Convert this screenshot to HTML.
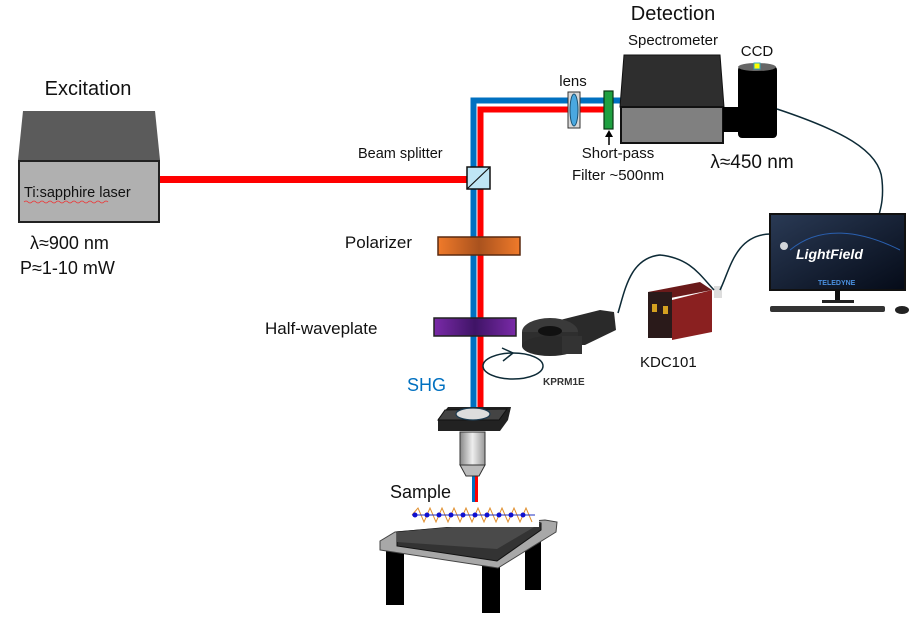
<!DOCTYPE html>
<html><head><meta charset="utf-8"><style>
html,body{margin:0;padding:0;background:#fff}
svg{display:block}
text{font-family:"Liberation Sans",sans-serif;fill:#111}
</style></head><body>
<svg width="921" height="618" viewBox="0 0 921 618">
<defs>
<linearGradient id="org" x1="0" x2="1"><stop offset="0" stop-color="#f07a2a"/><stop offset=".5" stop-color="#a9521e"/><stop offset="1" stop-color="#f07a2a"/></linearGradient>
<linearGradient id="pur" x1="0" x2="1"><stop offset="0" stop-color="#7a2aa8"/><stop offset=".5" stop-color="#3f1466"/><stop offset="1" stop-color="#7a2aa8"/></linearGradient>
<linearGradient id="barrel" x1="0" x2="1"><stop offset="0" stop-color="#888"/><stop offset=".5" stop-color="#eee"/><stop offset="1" stop-color="#999"/></linearGradient>
<linearGradient id="scr" x1="0" x2="1" y1="0" y2="1"><stop offset="0" stop-color="#2a3a55"/><stop offset="1" stop-color="#050b18"/></linearGradient>
</defs>

<text x="88" y="95" font-size="20" text-anchor="middle">Excitation</text>
<g>
<polygon points="23,111 155,111 160,160 18,160" fill="#5b5b5b"/>
<rect x="19" y="161" width="140" height="61" fill="#b0b0b0" stroke="#222" stroke-width="2"/>
<text x="24" y="197" font-size="14.5">Ti:sapphire laser</text>
<path d="M24,202 q2,-2 4,0 t4,0 t4,0 t4,0 t4,0 t4,0 t4,0 t4,0 t4,0 t4,0 t4,0 t4,0 t4,0 t4,0 t4,0 t4,0 t4,0 t4,0 t4,0 t4,0 t4,0" stroke="#e33" fill="none" stroke-width="0.8"/>
</g>
<text x="30" y="249" font-size="18">λ≈900 nm</text>
<text x="20" y="274" font-size="18">P≈1-10 mW</text>

<g>
<rect x="160" y="176" width="308" height="7" fill="#ff0000"/>
<path d="M473.5,430 V100.5 H622" stroke="#0070c0" stroke-width="6" fill="none"/>
<path d="M480.5,430 V109.5 H606" stroke="#ff0000" stroke-width="6" fill="none"/>
<rect x="472" y="470" width="3" height="32" fill="#0070c0"/>
<rect x="475" y="470" width="3" height="32" fill="#ff0000"/>
</g>
<g>
<rect x="467" y="167" width="23" height="22" fill="#bfe6f5" stroke="#111" stroke-width="1.5"/>
<line x1="467" y1="189" x2="490" y2="167" stroke="#111" stroke-width="1.2"/>
</g>
<text x="358" y="158" font-size="14.5">Beam splitter</text>

<rect x="438" y="237" width="82" height="18" fill="url(#org)" stroke="#5a2a10" stroke-width="1.5"/>
<text x="412" y="248" font-size="17" text-anchor="end">Polarizer</text>
<rect x="434" y="318" width="82" height="18" fill="url(#pur)" stroke="#222" stroke-width="1.5"/>
<text x="265" y="334" font-size="17">Half-waveplate</text>
<text x="407" y="391" font-size="18" style="fill:#0070c0">SHG</text>

<g fill="none" stroke="#0d2a36" stroke-width="1.5">
<ellipse cx="513" cy="366" rx="30" ry="13"/>
<path d="M502,348 L513,353 L503,361"/>
</g>
<text x="543" y="385" font-size="10" font-weight="bold" style="fill:#333">KPRM1E</text>

<g>
<polygon points="560,320 600,310 614,312 616,330 585,345 565,345" fill="#2a2a2a"/>
<ellipse cx="550" cy="332" rx="28" ry="14" fill="#3a3a3a"/>
<rect x="522" y="332" width="56" height="14" fill="#2e2e2e"/>
<ellipse cx="550" cy="346" rx="28" ry="10" fill="#2a2a2a"/>
<ellipse cx="550" cy="331" rx="12" ry="5" fill="#111"/>
<rect x="562" y="336" width="20" height="18" fill="#333"/>
</g>
<g>
<polygon points="648,292 700,282 712,290 660,300" fill="#6a1a1a"/>
<rect x="648" y="292" width="24" height="46" fill="#2a1a1a"/>
<polygon points="672,300 712,290 712,332 672,340" fill="#8a2020"/>
<rect x="652" y="304" width="5" height="8" fill="#d4a020"/>
<rect x="663" y="306" width="5" height="8" fill="#d4a020"/>
<rect x="714" y="286" width="8" height="12" fill="#ddd"/>
</g>
<text x="640" y="367" font-size="15">KDC101</text>

<g fill="none" stroke="#0d2a36" stroke-width="1.5">
<path d="M618,313 C625,290 630,258 660,255 C690,258 700,275 714,290"/>
<path d="M720,290 C730,270 735,235 770,234"/>
<path d="M777,109 C840,130 880,150 882,180 C884,200 880,210 879,215"/>
</g>

<text x="673" y="20" font-size="20" text-anchor="middle">Detection</text>
<text x="673" y="45" font-size="15" text-anchor="middle">Spectrometer</text>
<text x="757" y="56" font-size="15" text-anchor="middle">CCD</text>
<text x="573" y="86" font-size="15" text-anchor="middle">lens</text>
<g>
<rect x="568" y="92" width="12" height="36" fill="#d8d8d8" stroke="#333"/>
<ellipse cx="574" cy="110" rx="4" ry="16" fill="#4aa8e0" stroke="#1a5070"/>
</g>
<rect x="604" y="91" width="9" height="38" fill="#1fa040" stroke="#0a3a15" stroke-width="1.2"/>
<g>
<line x1="609" y1="145" x2="609" y2="136" stroke="#000" stroke-width="1.5"/>
<polygon points="605,137 613,137 609,130" fill="#000"/>
</g>
<text x="618" y="158" font-size="15" text-anchor="middle">Short-pass</text>
<text x="618" y="180" font-size="15" text-anchor="middle">Filter ~500nm</text>
<g>
<polygon points="624,55 720,55 724,107 620,107" fill="#2e2e2e" stroke="#111"/>
<rect x="621" y="107" width="102" height="36" fill="#808080" stroke="#111" stroke-width="2"/>
</g>
<g>
<rect x="723" y="107" width="16" height="25" fill="#000"/>
<rect x="738" y="66" width="39" height="72" rx="4" fill="#000"/>
<ellipse cx="757" cy="67" rx="19" ry="4" fill="#666"/>
<rect x="754" y="63" width="6" height="6" fill="#ff0" stroke="#3ab"/>
</g>
<text x="752" y="168" font-size="19" text-anchor="middle">λ≈450 nm</text>

<g>
<rect x="770" y="214" width="135" height="76" fill="url(#scr)" stroke="#111" stroke-width="2"/>
<path d="M790,250 C820,225 860,230 900,250" stroke="#2a60b0" fill="none" stroke-width="1"/>
<circle cx="784" cy="246" r="4" fill="#fff" opacity=".8"/>
<text x="796" y="259" font-size="14" font-weight="bold" font-style="italic" style="fill:#fff">LightField</text>
<text x="818" y="285" font-size="7" font-weight="bold" style="fill:#4a90e0">TELEDYNE</text>
<rect x="835" y="291" width="5" height="10" fill="#111"/>
<rect x="822" y="300" width="32" height="3" fill="#222"/>
<rect x="770" y="306" width="115" height="6" rx="2" fill="#333"/>
<ellipse cx="902" cy="310" rx="7" ry="4" fill="#222"/>
</g>

<g>
<polygon points="438,419 448,407 511,407 508,420 500,431 438,431" fill="#222"/>
<polygon points="445,410 507,409 499,420 438,420" fill="#444" stroke="#111"/>
<ellipse cx="473" cy="414" rx="17" ry="6" fill="#ddd" stroke="#1a3a50" stroke-width="1.2"/>
<rect x="460" y="432" width="25" height="33" fill="url(#barrel)" stroke="#333"/>
<path d="M460,465 L466,476 H479 L485,465 Z" fill="#bbb" stroke="#333"/>
</g>
<text x="390" y="498" font-size="18">Sample</text>

<g>
<rect x="386" y="545" width="18" height="60" fill="#000"/>
<rect x="482" y="555" width="18" height="58" fill="#000"/>
<rect x="525" y="535" width="16" height="55" fill="#000"/>
<polygon points="380,541 395,532 545,520 557,522 556,532 498,568 380,550" fill="#a8a8a8" stroke="#444"/>
<polygon points="397,532 530,520 541,523 541,530 497,561 397,546" fill="#333" stroke="#111"/>
<polygon points="397,532 530,520 541,523 497,549 397,542" fill="#4a4a4a"/>
</g>
<g>
<rect x="409" y="505" width="130" height="22" fill="#fff"/>
<path d="M412,515 L418,508 L424,522 L430,508 L436,522 L442,508 L448,522 L454,508 L460,522 L466,508 L472,522 L478,508 L484,522 L490,508 L496,522 L502,508 L508,522 L514,508 L520,522 L526,508 L532,522" stroke="#e09030" fill="none" stroke-width="1"/>
<path d="M412,515 H535" stroke="#2030c0" stroke-width="1"/>
<g fill="#1010d0"><circle cx="415" cy="515" r="2.5"/><circle cx="427" cy="515" r="2.5"/><circle cx="439" cy="515" r="2.5"/><circle cx="451" cy="515" r="2.5"/><circle cx="463" cy="515" r="2.5"/><circle cx="475" cy="515" r="2.5"/><circle cx="487" cy="515" r="2.5"/><circle cx="499" cy="515" r="2.5"/><circle cx="511" cy="515" r="2.5"/><circle cx="523" cy="515" r="2.5"/></g>
</g>
</svg>
</body></html>
